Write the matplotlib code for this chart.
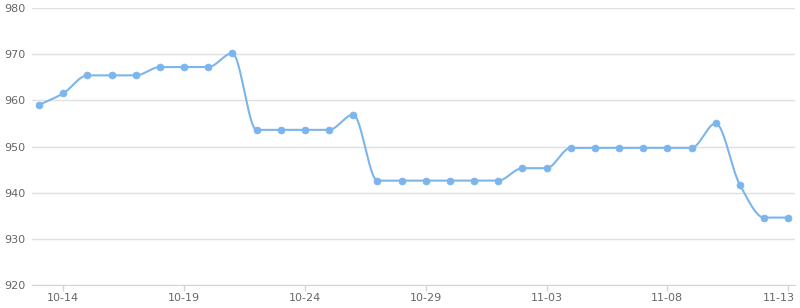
import numpy as np
import matplotlib.pyplot as plt
import matplotlib.transforms as mtransforms

# daily values, 10-13 .. 11-13
dates = ['10-13', '10-14', '10-15', '10-16', '10-17', '10-18', '10-19', '10-20',
         '10-21', '10-22', '10-23', '10-24', '10-25', '10-26', '10-27', '10-28',
         '10-29', '10-30', '10-31', '11-01', '11-02', '11-03', '11-04', '11-05',
         '11-06', '11-07', '11-08', '11-09', '11-10', '11-11', '11-12', '11-13']
values = [959.0, 961.5, 965.4, 965.4, 965.4, 967.2, 967.2, 967.2,
          970.2, 953.6, 953.6, 953.6, 953.6, 956.9, 942.6, 942.6,
          942.6, 942.6, 942.6, 942.6, 945.3, 945.3, 949.7, 949.7,
          949.7, 949.7, 949.7, 949.7, 955.0, 941.7, 934.6, 934.6]
tick_labels = ['10-14', '10-19', '10-24', '10-29', '11-03', '11-08', '11-13']
yticks = [920, 930, 940, 950, 960, 970, 980]


def monotone_curve(x, y, n=40):
    # Fritsch-Carlson monotone cubic, only used to draw the smooth line
    x = np.asarray(x, float)
    y = np.asarray(y, float)
    h = np.diff(x)
    d = np.diff(y) / h
    m = np.zeros_like(y)
    m[0], m[-1] = d[0], d[-1]
    for i in range(1, len(y) - 1):
        if d[i - 1] * d[i] > 0:
            m[i] = 2 * d[i - 1] * d[i] / (d[i - 1] + d[i])
    xs, ys = [], []
    for i in range(len(h)):
        t = np.linspace(0, 1, n)
        h00 = 2 * t**3 - 3 * t**2 + 1
        h10 = t**3 - 2 * t**2 + t
        h01 = -2 * t**3 + 3 * t**2
        h11 = t**3 - t**2
        xs.append(x[i] + t * h[i])
        ys.append(h00 * y[i] + h10 * h[i] * m[i] + h01 * y[i + 1] + h11 * h[i] * m[i + 1])
    return np.concatenate(xs), np.concatenate(ys)


x = np.arange(len(dates))
cx, cy = monotone_curve(x, values)

col = '#7cb5ec'
fig = plt.figure(figsize=(8, 3.08), dpi=100)
ax = fig.add_axes([0.04, 0.0747, 0.954, 0.8993])

ax.plot(cx, cy, color=col, lw=1.5, zorder=3)
ax.plot(x, values, 'o', color=col, ms=5, mec=col, mew=0.5, zorder=4)

ax.set_ylim(920, 980)
ax.set_yticks(yticks)
ax.set_xlim(-0.29, len(dates) - 1 + 0.29)
tick_pos = [dates.index(t) for t in tick_labels]
ax.set_xticks(tick_pos)
ax.set_xticklabels(tick_labels)

ax.grid(axis='y', color='#e0e0e0', lw=1)
ax.set_axisbelow(True)
for s in ['top', 'right', 'left']:
    ax.spines[s].set_visible(False)
ax.spines['bottom'].set_color('#ccd6eb')
ax.tick_params(axis='x', colors='#ccd6eb', length=4, width=1, labelcolor='#666666',
               labelsize=8, pad=2)
ax.tick_params(axis='y', length=0, labelcolor='#666666', labelsize=8, pad=5)

# last label pulled inside the figure like the original
last = ax.get_xticklabels()[-1]
last.set_horizontalalignment('right')
last.set_transform(last.get_transform() +
                   mtransforms.ScaledTranslation(7 / 100, 0, fig.dpi_scale_trans))

plt.savefig('out.png', dpi=100)
plt.close()
